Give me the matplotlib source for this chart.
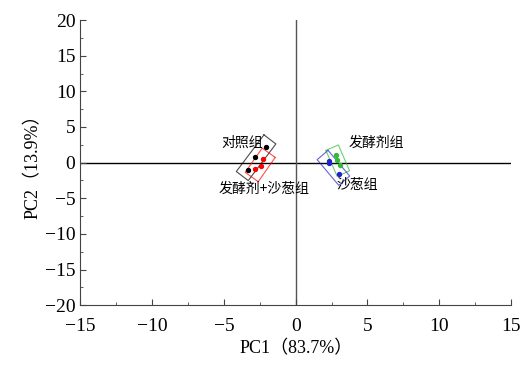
import numpy as np
import matplotlib.pyplot as plt
from matplotlib.ticker import MultipleLocator

plt.rcParams['font.family'] = ['Liberation Serif', 'Noto Sans CJK SC']

# PCA scores
groups = ["对照组", "发酵剂+沙葱组", "发酵剂组", "沙葱组"]
colors = ["black", "red", "#33bb33", "#2222cc"]
pc1 = [[-2.1, -2.8, -3.3], [-2.3, -2.4, -2.8], [2.8, 2.9, 3.1], [2.3, 2.3, 3.0]]
pc2 = [[2.2, 0.8, -1.0], [0.5, -0.5, -0.9], [1.0, 0.3, -0.4], [-0.1, 0.2, -1.6]]
label_x = [-3.7, -2.2, 5.6, 4.3]
label_y = [2.8, -3.7, 2.8, -3.2]

fig = plt.figure(figsize=(5.21, 3.65), dpi=100)
ax = fig.add_axes([0.154, 0.164, 0.827, 0.781])

ax.axhline(0, color='black', lw=1.0, zorder=1)
ax.axvline(0, color='#555555', lw=1.0, zorder=1)

def box(x, y, pad_l=0.6, pad_w=0.45):
    # rotated rectangle around points, along their main direction
    s = 14.4 / 7.1
    pts = np.column_stack([np.array(x), np.array(y) / s])
    c = pts.mean(axis=0)
    d = pts - c
    u, sv, vt = np.linalg.svd(d)
    a, b = vt[0], vt[1]
    pa = d @ a
    pb = d @ b
    lo_a, hi_a = pa.min() - pad_l, pa.max() + pad_l
    lo_b, hi_b = pb.min() - pad_w, pb.max() + pad_w
    corners = [c + lo_a * a + lo_b * b, c + hi_a * a + lo_b * b,
               c + hi_a * a + hi_b * b, c + lo_a * a + hi_b * b]
    corners.append(corners[0])
    corners = np.array(corners)
    return corners[:, 0], corners[:, 1] * s

for g, col, x, y, lx, ly in zip(groups, colors, pc1, pc2, label_x, label_y):
    bx, by = box(x, y)
    ax.plot(bx, by, color=col, lw=0.8, alpha=0.7, zorder=2)
    ax.scatter(x, y, s=8, color=col, zorder=3)
    ax.text(lx, ly, g, fontsize=10, ha='center', va='center',
            family=['Noto Sans CJK SC', 'DejaVu Sans'])

ax.set_xlim(-15, 15)
ax.set_ylim(-20, 20)
ax.xaxis.set_major_locator(MultipleLocator(5))
ax.yaxis.set_major_locator(MultipleLocator(5))
ax.xaxis.set_minor_locator(MultipleLocator(2.5))
ax.yaxis.set_minor_locator(MultipleLocator(2.5))
ax.tick_params(which='both', direction='in', labelsize=14, color='#444444')
ax.tick_params(which='major', length=4)
ax.tick_params(which='minor', length=2)
ax.tick_params(axis='x', pad=9)
ax.spines['top'].set_visible(False)
ax.spines['right'].set_visible(False)
for sp in ['left', 'bottom']:
    ax.spines[sp].set_color('#444444')

ax.set_xlabel("PC1（83.7%）", fontsize=13, labelpad=4)
ax.set_ylabel("PC2（13.9%）", fontsize=13, labelpad=2)

fig.savefig("out.png", dpi=100)
